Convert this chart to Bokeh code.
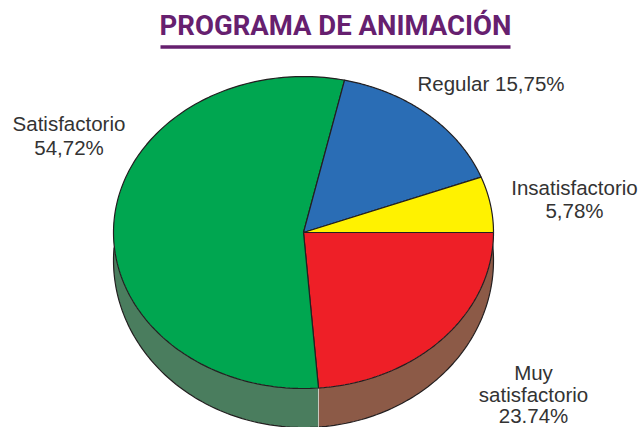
import numpy as np
from bokeh.plotting import figure
from bokeh.models import Range1d
from bokeh.core.properties import value
from bokeh.embed import file_html
from bokeh.resources import INLINE

TITLE = "PROGRAMA DE ANIMACIÓN"
categories = ["Muy satisfactorio", "Satisfactorio", "Regular", "Insatisfactorio"]
percent = [23.74, 54.72, 15.75, 5.78]
top_colors = ["#ee1f27", "#00a650", "#2a6db5", "#fff200"]
side_colors = ["#8c5a47", "#4a7d5e"]

CX, CY, RX, RY = 303, 232, 190, 156
BCY, BRY = 260, 167

W, H = 639, 427
p = figure(width=W, height=H, output_backend="svg", toolbar_location=None,
           x_range=Range1d(0, W), y_range=Range1d(H, 0),
           min_border=0, outline_line_color=None, background_fill_color="white")
p.xaxis.visible = False
p.yaxis.visible = False
p.grid.visible = False

frac = np.cumsum([0] + percent) / np.sum(percent) * 2 * np.pi


def arc(a0, a1, cy, ry, n=160):
    t = np.linspace(a0, a1, n)
    return CX + RX * np.cos(t), cy + ry * np.sin(t)


# side wall: between the lower rim and the top rim, one colour per visible slice
split = frac[1]
right_start = np.arcsin((CY - BCY) / BRY)
left_end = np.pi - np.arcsin((247 - BCY) / BRY)
for (a0, a1), c in zip([(right_start, split), (split, left_end)], side_colors):
    xb, yb = arc(a0, a1, BCY, BRY)
    xt, yt = arc(a1, a0, CY, RY)
    p.patch(np.r_[xb, xt], np.r_[yb, yt], fill_color=c, line_color=None)
xb, yb = arc(right_start, left_end, BCY, BRY)
p.line(xb, yb, line_color="#231f20", line_width=1.2)
sx = CX + RX * np.cos(split)
p.line([sx, sx], [CY + RY * np.sin(split), BCY + BRY * np.sin(split)],
       line_color="#c9c9c0", line_width=1)

# top face
for i, c in enumerate(top_colors):
    x, y = arc(frac[i], frac[i + 1], CY, RY)
    p.patch(np.r_[CX, x, CX], np.r_[CY, y, CY], fill_color=c,
            line_color="#231f20", line_width=1.2)

# title
p.text([335], [25], text=[TITLE], text_align="center", text_baseline="middle",
       text_font=value("Roboto"), text_font_style="bold",
       text_font_size="27.5px", text_color="#66206f")
p.line([160, 510], [46.5, 46.5], line_color="#66206f", line_width=3.5)

# labels
lab_x = [533, 533, 533, 68.5, 68.5, 490.5, 574, 574]
lab_y = [372, 394, 414.5, 123, 147, 83, 187, 210]
lab_t = ["Muy", "satisfactorio", f"{percent[0]:.2f}%",
         "Satisfactorio", f"{percent[1]:.2f}%".replace(".", ","),
         f"Regular {percent[2]:.2f}%".replace(".", ","),
         "Insatisfactorio", f"{percent[3]:.2f}%".replace(".", ",")]
p.text(lab_x, lab_y, text=lab_t, text_align="center", text_baseline="middle",
       text_font=value("Liberation Sans"), text_font_size="20.5px", text_color="#333333")

open("out.html", "w").write(file_html(p, INLINE))
